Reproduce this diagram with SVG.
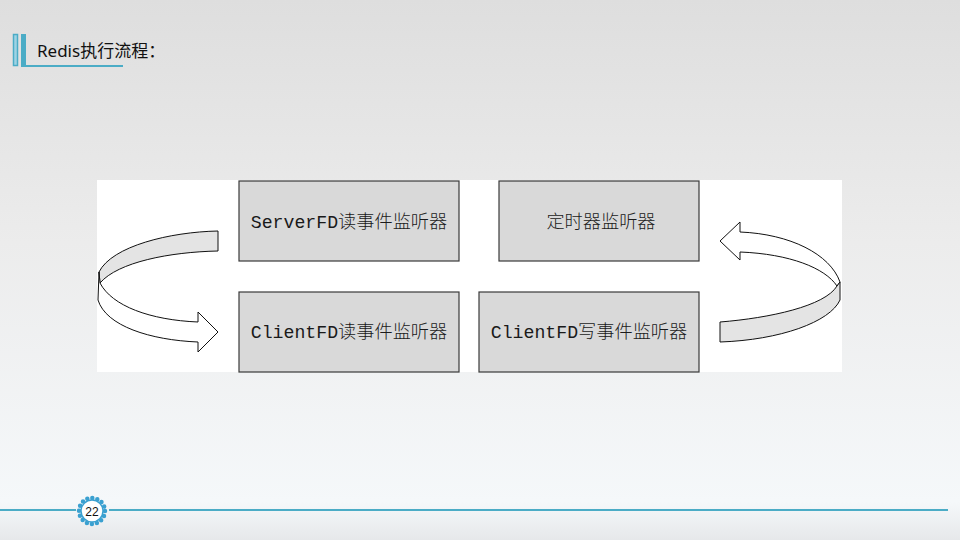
<svg xmlns="http://www.w3.org/2000/svg" width="960" height="540" viewBox="0 0 960 540">
<defs>
<linearGradient id="bg" x1="0" y1="0" x2="0" y2="1">
<stop offset="0" stop-color="#dedede"/>
<stop offset="0.45" stop-color="#ececec"/>
<stop offset="0.93" stop-color="#f5f8fa"/>
<stop offset="1" stop-color="#e6e8ea"/>
</linearGradient>
<style>
.box{fill:#d9d9d9;stroke:#3a3a3a;stroke-width:1.2}
.lbl{font-family:"Liberation Mono","Noto Sans CJK SC",monospace;font-size:18.2px;fill:#1a1a1a;text-anchor:middle;font-weight:300}
.rib{stroke:#111;stroke-width:1;stroke-linejoin:round}
.blue{fill:#4bacc6}
</style>
</defs>
<rect width="960" height="540" fill="url(#bg)"/>
<g id="header">
<rect x="13.5" y="34.5" width="4" height="31" fill="#9fd3e4" stroke="#4bacc6" stroke-width="1.5"/>
<rect x="21" y="34" width="5" height="33" class="blue"/>
<rect x="21" y="65" width="102" height="2" class="blue"/>
<text x="37" y="57" font-family="'Noto Sans','Noto Sans CJK SC',sans-serif" font-size="17" fill="#111">Redis执行流程：</text>
</g>
<rect x="97" y="180" width="745" height="192" fill="#ffffff"/>
<g id="connectors">
<path class="rib" fill="#e4e4e4" d="M218,231 C170,232 112,246 99,272 L100,283 C118,262 170,252 218,251 Z"/>
<path class="rib" fill="#ffffff" d="M99,272 L98,300 C106,326 150,340 198,342 L198,352 L218,332 L198,312 L198,322 C150,320 112,306 100,283 Z"/>
<path class="rib" fill="#ffffff" d="M720,241 L740,222 L740,232 C790,234 830,254 840,282 L837,286 C825,268 790,254 740,252 L740,260 Z"/>
<path class="rib" fill="#e4e4e4" d="M720,322 C770,318 825,306 837,286 L840,282 L840,300 C830,322 780,340 720,342 Z"/>
</g>
<g id="n1"><rect class="box" x="239" y="181" width="220" height="80"/><text class="lbl" x="349" y="228">ServerFD读事件监听器</text></g>
<g id="n2"><rect class="box" x="499" y="181" width="200" height="80"/><text class="lbl" x="601" y="228">定时器监听器</text></g>
<g id="n3"><rect class="box" x="239" y="292" width="220" height="80"/><text class="lbl" x="349" y="338">ClientFD读事件监听器</text></g>
<g id="n4"><rect class="box" x="479" y="292" width="220" height="80"/><text class="lbl" x="589" y="338">ClientFD写事件监听器</text></g>
<g id="footer">
<rect x="0" y="509" width="76" height="2" class="blue"/>
<rect x="109" y="509" width="839" height="2" class="blue"/>
<circle cx="92" cy="511" r="13" fill="none" stroke="#3aa0d0" stroke-width="4.5" stroke-linecap="round" stroke-dasharray="0 5.1"/>
<circle cx="92" cy="511" r="11" fill="#ffffff" stroke="#3aa0d0" stroke-width="1.5"/>
<text x="92" y="516" font-family="'Liberation Sans',sans-serif" font-size="12" fill="#111" text-anchor="middle">22</text>
</g>
</svg>
